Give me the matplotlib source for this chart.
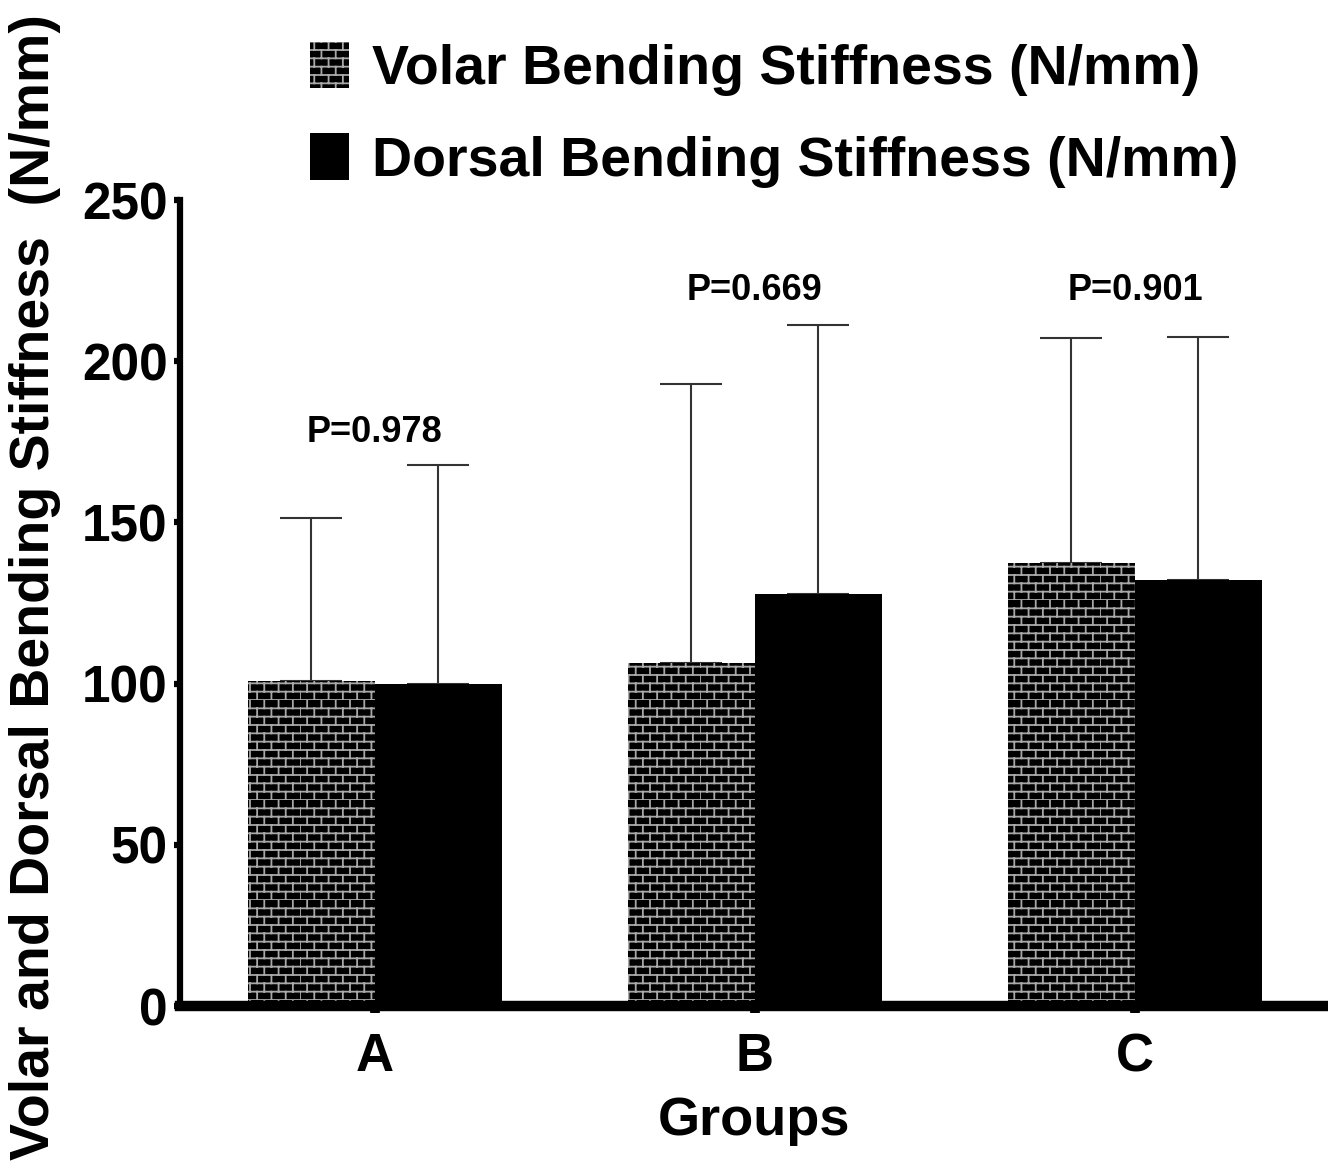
import warnings
import numpy as np
import matplotlib
matplotlib.use("Agg")
import matplotlib.pyplot as plt
from matplotlib import hatch as mhatch
from matplotlib.path import Path

warnings.filterwarnings("ignore")

# ---------------- data ----------------
groups = ["A", "B", "C"]
volar_mean = [100.8, 106.4, 137.4]
volar_sd = [50.6, 86.5, 69.8]
dorsal_mean = [99.9, 127.8, 132.1]
dorsal_sd = [67.9, 83.4, 75.4]
p_labels = ["P=0.978", "P=0.669", "P=0.901"]
p_label_y = [178, 222, 222]
series_names = ["Volar Bending Stiffness (N/mm)", "Dorsal Bending Stiffness (N/mm)"]
y_ticks = [0, 50, 100, 150, 200, 250]


# ---------------- custom brick hatch ----------------
class BrickHatch(mhatch.HatchPatternBase):
    def __init__(self, hatch, density):
        self.rows = 12 if "b" in hatch else 0
        self.cols = 7
        if self.rows:
            self.num_vertices = (self.rows + self.rows * self.cols) * 2
        else:
            self.num_vertices = 0

    def set_vertices_and_codes(self, vertices, codes):
        n, m = self.rows, self.cols
        i = 0
        for k in range(n):
            y = k / n
            vertices[i] = (0.0, y)
            vertices[i + 1] = (1.0, y)
            codes[i] = Path.MOVETO
            codes[i + 1] = Path.LINETO
            i += 2
        for k in range(n):
            y0, y1 = k / n, (k + 1) / n
            off = 0.5 * (k % 2)
            for j in range(m):
                x = (j + off) / m
                vertices[i] = (x, y0)
                vertices[i + 1] = (x, y1)
                codes[i] = Path.MOVETO
                codes[i + 1] = Path.LINETO
                i += 2


mhatch._hatch_types.append(BrickHatch)

plt.rcParams["font.family"] = ["Liberation Sans", "DejaVu Sans"]
plt.rcParams["font.weight"] = "bold"
plt.rcParams["hatch.linewidth"] = 1.3

fig = plt.figure(figsize=(13.28, 11.66), dpi=100)
W, H = 1328, 1166
ax = fig.add_axes([180 / W, (H - 1006) / H, 1 - 180 / W, (1006 - 200) / H])

x = np.arange(len(groups))
w = 0.334

bv = ax.bar(x - w / 2, volar_mean, width=w, color="black", edgecolor="#a8a8a8",
            linewidth=0, hatch="b", label=series_names[0], zorder=2)
bd = ax.bar(x + w / 2, dorsal_mean, width=w, color="black", edgecolor="black",
            linewidth=0, label=series_names[1], zorder=2)

zeros = np.zeros(len(groups))
ax.errorbar(x - w / 2, volar_mean, yerr=[zeros, volar_sd], fmt="none",
            ecolor="#333333", elinewidth=1.5, capsize=22, capthick=1.5, zorder=1)
ax.errorbar(x + w / 2, dorsal_mean, yerr=[zeros, dorsal_sd], fmt="none",
            ecolor="#333333", elinewidth=1.5, capsize=22, capthick=1.5, zorder=1)

for xi, lab, yy in zip(x, p_labels, p_label_y):
    ax.text(xi, yy, lab, ha="center", va="center", fontsize=26, fontweight="bold")

ax.set_xlim(-0.513, 2.508)
ax.set_ylim(0, 250)
ax.set_yticks(y_ticks)
ax.set_xticks(x)
ax.set_xticklabels(groups)

for s in ["top", "right"]:
    ax.spines[s].set_visible(False)
ax.spines["left"].set_linewidth(4.5)
ax.spines["bottom"].set_linewidth(7.5)
ax.spines["bottom"].set_zorder(5)
ax.spines["left"].set_zorder(5)

ax.tick_params(axis="y", length=4, width=4.5, labelsize=37, pad=5)
ax.tick_params(axis="x", length=5, width=7, labelsize=38, pad=14)
for t in ax.get_xticklabels() + ax.get_yticklabels():
    t.set_fontweight("bold")

ax.set_xlabel("Groups", fontsize=39, fontweight="bold", labelpad=10)
fig.text(35 / W, 1 - 587 / H, "Volar and Dorsal Bending Stiffness  (N/mm)", rotation=90,
         ha="center", va="center", fontsize=40, fontweight="bold")

leg = fig.legend(handles=[bv, bd], labels=series_names, loc="upper left",
                 bbox_to_anchor=(310 / W, 1 - 42 / H), frameon=False,
                 prop={"weight": "bold", "size": 40},
                 handlelength=0.70, handleheight=0.9, handletextpad=0.42,
                 labelspacing=0.67, borderpad=0, borderaxespad=0)

fig.savefig("out.png", dpi=100)
